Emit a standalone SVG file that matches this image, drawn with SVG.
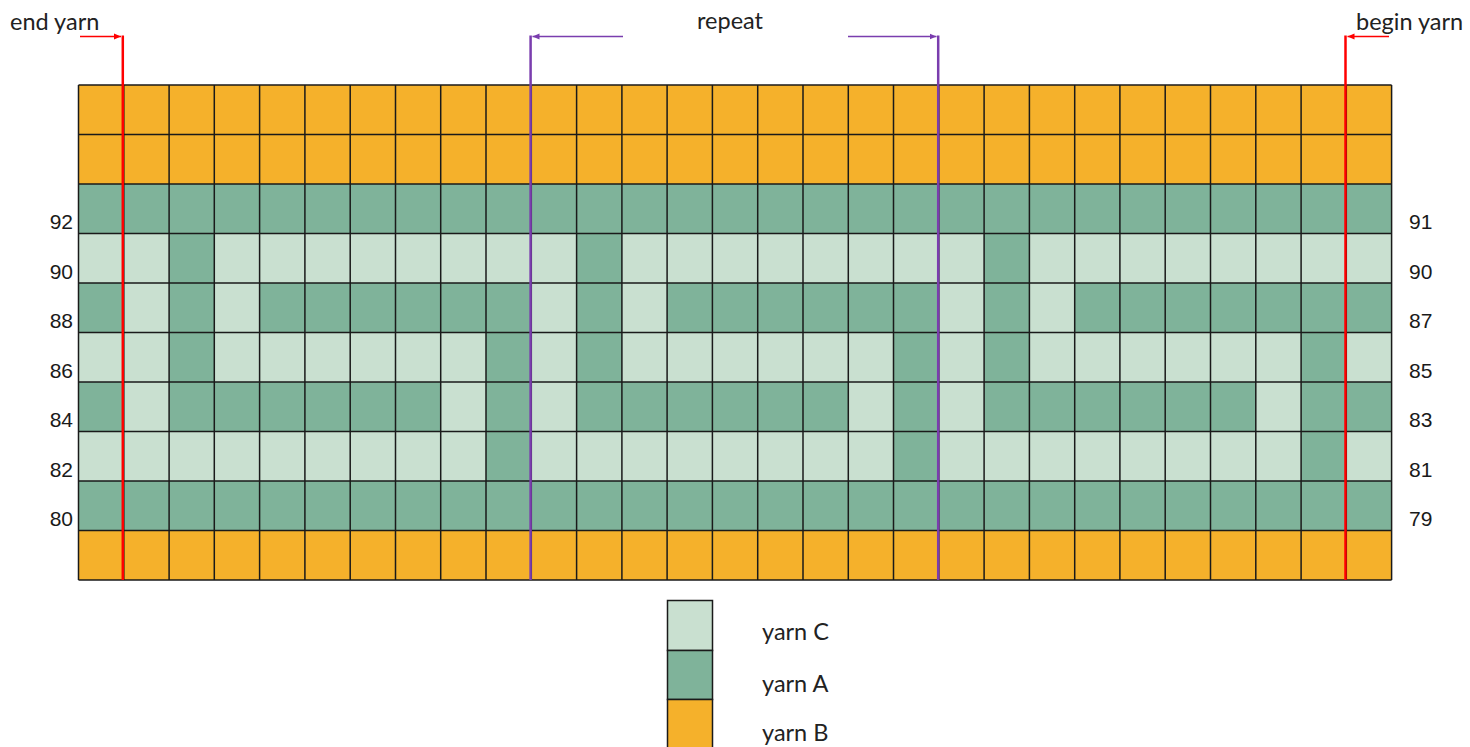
<svg xmlns="http://www.w3.org/2000/svg" width="1470" height="747" viewBox="0 0 1470 747">
<style>
.o{fill:#F5B12B}
.d{fill:#7FB39A}
.l{fill:#C9E0D0}
.grid{fill:none;stroke:#1a1a1a;stroke-width:1.5}
.num{font-family:"Liberation Sans",Arial,sans-serif;font-size:21px;fill:#1a1a1a}
.lbl{font-family:Lato,"Open Sans",sans-serif;font-size:23.5px;fill:#222}
.red{stroke:#FF0000;fill:none}
.pur{stroke:#7A3DAE;fill:none}
</style>
<defs>
<marker id="ar" markerUnits="userSpaceOnUse" markerWidth="8" markerHeight="8" refX="7" refY="4" orient="auto"><path d="M0,1 L7,4 L0,7 Z" fill="#FF0000"/></marker>
<marker id="ap" markerUnits="userSpaceOnUse" markerWidth="8" markerHeight="8" refX="7" refY="4" orient="auto"><path d="M0,1 L7,4 L0,7 Z" fill="#7A3DAE"/></marker>
</defs>
<rect width="1470" height="747" fill="#fff"/>
<g id="chart">
<rect class="o" x="78.5" y="85" width="1313.1" height="99"/>
<rect class="d" x="78.5" y="184" width="1313.1" height="49.5"/>
<rect class="l" x="78.5" y="233.5" width="1313.1" height="247.5"/>
<rect class="d" x="78.5" y="481" width="1313.1" height="49.5"/>
<rect class="o" x="78.5" y="530.5" width="1313.1" height="49.5"/>
<g id="row90">
<rect class="d" x="169.1" y="233.5" width="45.3" height="49.5"/>
<rect class="d" x="576.6" y="233.5" width="45.3" height="49.5"/>
<rect class="d" x="984.1" y="233.5" width="45.3" height="49.5"/>
</g>
<g id="row88">
<rect class="d" x="78.5" y="283" width="45.3" height="49.5"/>
<rect class="d" x="169.1" y="283" width="45.3" height="49.5"/>
<rect class="d" x="259.6" y="283" width="271.7" height="49.5"/>
<rect class="d" x="576.6" y="283" width="45.3" height="49.5"/>
<rect class="d" x="667.1" y="283" width="271.7" height="49.5"/>
<rect class="d" x="984.1" y="283" width="45.3" height="49.5"/>
<rect class="d" x="1074.7" y="283" width="316.9" height="49.5"/>
</g>
<g id="row86">
<rect class="d" x="169.1" y="332.5" width="45.3" height="49.5"/>
<rect class="d" x="486.0" y="332.5" width="45.3" height="49.5"/>
<rect class="d" x="576.6" y="332.5" width="45.3" height="49.5"/>
<rect class="d" x="893.5" y="332.5" width="45.3" height="49.5"/>
<rect class="d" x="984.1" y="332.5" width="45.3" height="49.5"/>
<rect class="d" x="1301.1" y="332.5" width="45.3" height="49.5"/>
</g>
<g id="row84">
<rect class="d" x="78.5" y="382" width="45.3" height="49.5"/>
<rect class="d" x="169.1" y="382" width="271.6" height="49.5"/>
<rect class="d" x="486.0" y="382" width="45.3" height="49.5"/>
<rect class="d" x="576.6" y="382" width="271.7" height="49.5"/>
<rect class="d" x="893.5" y="382" width="45.3" height="49.5"/>
<rect class="d" x="984.1" y="382" width="271.7" height="49.5"/>
<rect class="d" x="1301.1" y="382" width="90.5" height="49.5"/>
</g>
<g id="row82">
<rect class="d" x="486.0" y="431.5" width="45.3" height="49.5"/>
<rect class="d" x="893.5" y="431.5" width="45.3" height="49.5"/>
<rect class="d" x="1301.1" y="431.5" width="45.3" height="49.5"/>
</g>
<path class="grid" d="M78.5,85V580M123.8,85V580M169.1,85V580M214.3,85V580M259.6,85V580M304.9,85V580M350.2,85V580M395.5,85V580M440.7,85V580M486.0,85V580M531.3,85V580M576.6,85V580M621.9,85V580M667.1,85V580M712.4,85V580M757.7,85V580M803.0,85V580M848.3,85V580M893.5,85V580M938.8,85V580M984.1,85V580M1029.4,85V580M1074.7,85V580M1119.9,85V580M1165.2,85V580M1210.5,85V580M1255.8,85V580M1301.1,85V580M1346.3,85V580M1391.6,85V580M78.5,85H1391.6M78.5,134.5H1391.6M78.5,184H1391.6M78.5,233.5H1391.6M78.5,283H1391.6M78.5,332.5H1391.6M78.5,382H1391.6M78.5,431.5H1391.6M78.5,481H1391.6M78.5,530.5H1391.6M78.5,580H1391.6"/>
</g>
<g id="row-numbers-left" class="num" text-anchor="end">
<text x="73" y="229">92</text>
<text x="73" y="278.5">90</text>
<text x="73" y="328">88</text>
<text x="73" y="377.5">86</text>
<text x="73" y="427">84</text>
<text x="73" y="476.5">82</text>
<text x="73" y="526">80</text>
</g>
<g id="row-numbers-right" class="num">
<text x="1409" y="229">91</text>
<text x="1409" y="278.5">90</text>
<text x="1409" y="328">87</text>
<text x="1409" y="377.5">85</text>
<text x="1409" y="427">83</text>
<text x="1409" y="476.5">81</text>
<text x="1409" y="526">79</text>
</g>
<g id="connectors">
<line class="red" x1="122.8" y1="35.5" x2="122.8" y2="580" stroke-width="2.5"/>
<line class="red" x1="1345.5" y1="35.5" x2="1345.5" y2="580" stroke-width="2.5"/>
<line class="pur" x1="530.6" y1="35.5" x2="530.6" y2="580" stroke-width="2.5"/>
<line class="pur" x1="938.2" y1="35.5" x2="938.2" y2="580" stroke-width="2.5"/>
<line class="red" x1="80" y1="36.5" x2="121" y2="36.5" stroke-width="1.5" marker-end="url(#ar)"/>
<line class="red" x1="1389" y1="36.5" x2="1347.5" y2="36.5" stroke-width="1.5" marker-end="url(#ar)"/>
<line class="pur" x1="623" y1="36.5" x2="532.5" y2="36.5" stroke-width="1.5" marker-end="url(#ap)"/>
<line class="pur" x1="848" y1="36.5" x2="936.5" y2="36.5" stroke-width="1.5" marker-end="url(#ap)"/>
</g>
<g id="label-end-yarn"><text class="lbl" x="10" y="30">end yarn</text></g>
<g id="label-repeat"><text class="lbl" x="697" y="29">repeat</text></g>
<g id="label-begin-yarn"><text class="lbl" x="1356" y="30">begin yarn</text></g>
<g id="legend">
<rect class="l" x="667.5" y="600.5" width="45" height="50" stroke="#1a1a1a" stroke-width="1.5"/>
<rect class="d" x="667.5" y="650.5" width="45" height="49" stroke="#1a1a1a" stroke-width="1.5"/>
<rect class="o" x="667.5" y="699.5" width="45" height="50" stroke="#1a1a1a" stroke-width="1.5"/>
<text class="lbl" x="762" y="640">yarn C</text>
<text class="lbl" x="762" y="692">yarn A</text>
<text class="lbl" x="762" y="741">yarn B</text>
</g>
</svg>
